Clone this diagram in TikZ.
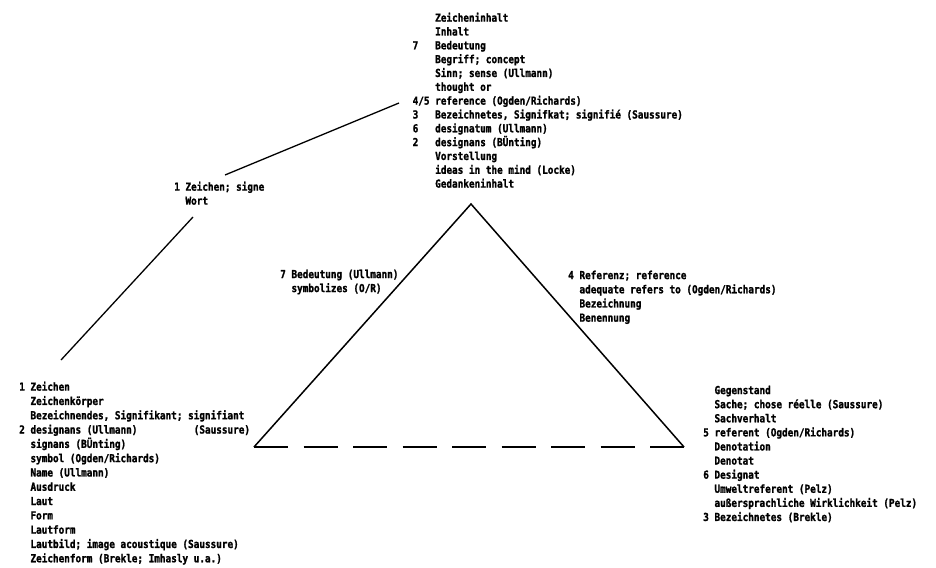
\documentclass[tikz,border=0pt]{standalone}
\usepackage{fontspec}
\newfontfamily\tw[FakeStretch=0.85,FakeBold=1.5]{DejaVu Sans Mono}
\newlength{\chw}\setlength{\chw}{5.63pt}
% number hanging left of the text column
\newcommand{\nr}[2][2]{\llap{\makebox[#1\chw][l]{#2}}}
\tikzset{
  entry/.style={anchor=north west, inner sep=0pt, align=left,
    font={\tw\bfseries\fontsize{11}{#1}\selectfont}},
  entry/.default=14.1,
  side/.style={line width=1.5pt},
  lead/.style={line width=1.3pt}
}
\begin{document}
\begin{tikzpicture}[x=1pt,y=-1pt]
    \useasboundingbox (0,0) rectangle (936,567);

    % Triangle
    \coordinate (apex) at (471,204);
    \coordinate (lcorner) at (254,447);
    \coordinate (rcorner) at (684,447);
    \draw[side] (lcorner) -- (apex) -- (rcorner);
    \draw[side, dash pattern=on 34pt off 15.5pt] (lcorner) -- (rcorner);

    % Thought or reference (top)
    \node[entry=13.83] (thought) at (435,12.5) {Zeicheninhalt\\
        Inhalt\\
        \nr[4]{7}Bedeutung\\
        Begriff; concept\\
        Sinn; sense (Ullmann)\\
        thought or\\
        \nr[4]{4/5}reference (Ogden/Richards)\\
        \nr[4]{3}Bezeichnetes, Signifkat; signifié (Saussure)\\
        \nr[4]{6}designatum (Ullmann)\\
        \nr[4]{2}designans (BÜnting)\\
        Vorstellung\\
        ideas in the mind (Locke)\\
        Gedankeninhalt};

    % Sign (upper label)
    \node[entry=14] (signe) at (185.3,181.5) {\nr{1}Zeichen; signe\\
        Wort};

    % Symbol (bottom left)
    \node[entry=14.3] (symbol) at (30.3,381.5) {\nr{1}Zeichen\\
        Zeichenkörper\\
        Bezeichnendes, Signifikant; signifiant\\
        \nr{2}\makebox[29\chw][l]{designans (Ullmann)}(Saussure)\\
        signans (BÜnting)\\
        symbol (Ogden/Richards)\\
        Name (Ullmann)\\
        Ausdruck\\
        Laut\\
        Form\\
        Lautform\\
        Lautbild; image acoustique (Saussure)\\
        Zeichenform (Brekle; Imhasly u.a.)};

    % Referent (bottom right)
    \node[entry=14.1] (referent) at (714.3,385.5) {Gegenstand\\
        Sache; chose réelle (Saussure)\\
        Sachverhalt\\
        \nr{5}referent (Ogden/Richards)\\
        Denotation\\
        Denotat\\
        \nr{6}Designat\\
        Umweltreferent (Pelz)\\
        außersprachliche Wirklichkeit (Pelz)\\
        \nr{3}Bezeichnetes (Brekle)};

    % Side labels
    \node[entry=14] (symbolizes) at (291.3,269.5) {\nr{7}Bedeutung (Ullmann)\\
        symbolizes (O/R)};
    \node[entry=14.2] (refers) at (579.3,270.5) {\nr{4}Referenz; reference\\
        adequate refers to (Ogden/Richards)\\
        Bezeichnung\\
        Benennung};

    % Leader lines
    \coordinate (signetop) at (225,175);
    \coordinate (reftip) at (399,103);
    \coordinate (wortfoot) at (193,217);
    \coordinate (symboltip) at (61,360);
    \draw[lead] (signetop) -- (reftip);
    \draw[lead] (wortfoot) -- (symboltip);
\end{tikzpicture}
\end{document}
